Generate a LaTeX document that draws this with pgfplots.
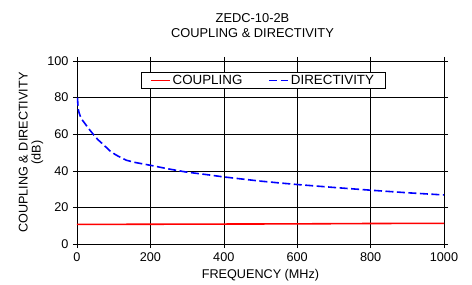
\documentclass[border=0pt]{standalone}
\usepackage{pgfplots}
\pgfplotsset{compat=1.18}
\usepackage{fontspec}
\setmainfont{Liberation Sans}
\begin{document}
\begin{tikzpicture}
\path[use as bounding box] (-77bp,-41bp) rectangle (395bp,244bp);
\begin{axis}[
  at={(0,0)}, anchor=south west,
  scale only axis, width=367bp, height=183bp,
  xmin=0, xmax=1000, ymin=0, ymax=100,
  xtick={0,200,...,1000}, ytick={0,20,...,100},
  grid=major, major grid style={black, line width=0.5pt},
  axis line style={black, line width=0.6pt},
  tick align=outside, major tick length=4bp,
  tick style={black, line width=0.5pt},
  /pgf/number format/assume math mode=true,
  /pgf/number format/1000 sep={},
  ticklabel style={font=\fontsize{12.7}{13}\selectfont},
  xticklabel style={yshift=-1bp},
  yticklabel style={xshift=-1bp},
  xlabel={FREQUENCY (MHz)},
  ylabel={\begin{tabular}{c}COUPLING \& DIRECTIVITY\\(dB)\end{tabular}},
  label style={font=\fontsize{12.7}{13}\selectfont},
  xlabel style={yshift=-1bp},
  ylabel style={yshift=-4bp},
  title={\begin{tabular}{c}ZEDC-10-2B\\COUPLING \& DIRECTIVITY\end{tabular}},
  title style={font=\fontsize{12.9}{14.5}\selectfont, yshift=10bp, xshift=-8bp},
  legend columns=2,
  legend style={at={(0.507,0.893)}, anchor=center, draw=black, line width=0.6pt,
    font=\fontsize{13.4}{14}\selectfont, inner xsep=9bp, inner ysep=0.5bp,
    /tikz/every even column/.append style={column sep=24bp}},
  legend image code/.code={\draw[#1] (0cm,0cm) -- (19bp,0cm);},
]
\addplot[red, line width=1.6pt] coordinates {(0,10.7) (200,10.8) (400,10.9) (600,11.0) (800,11.2) (1000,11.3)};
\addlegendentry{COUPLING}
\addplot[blue, line width=1.6pt, dash pattern=on 8bp off 3.5bp] coordinates {
(1.5,80) (2,77.5) (3,75) (4,73.2) (6,71.5) (10,69.3) (15,67.6) (21,66) (30,63.5) (44,60) (57,57) (71,54.5) (89,51) (105,48.8) (117,47.5) (134,45.8) (160,44.5) (200,43) (250,41) (298,39.3) (350,38) (398,36.7) (450,35.5) (498,34.4) (550,33.4) (600,32.5) (700,30.9) (800,29.4) (900,28) (1000,26.8)};
\addlegendentry{DIRECTIVITY}
\node[anchor=south west, font=\fontsize{7.5}{8}\selectfont, inner sep=1bp] at (rel axis cs:0.01,1) {at RF level of -10 dBm};
\end{axis}
\end{tikzpicture}
\end{document}
